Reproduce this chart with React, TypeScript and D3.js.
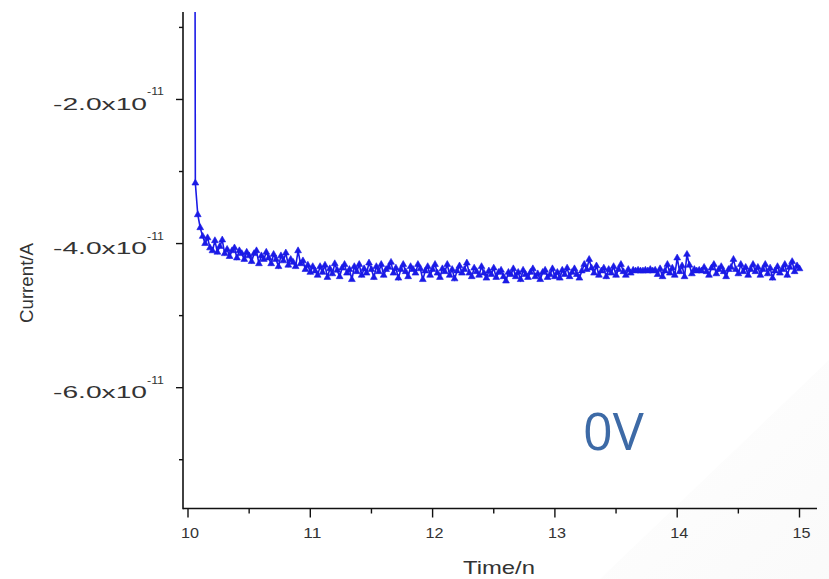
import React from "react";
import * as d3 from "d3";

// Time axis (n) and current (in units of 1e-11 A)
const timeStart = 10.04;
const timeStep = 0.02;
const currentValues: number[] = [
  20,
  -3.16, -3.6, -3.78, -3.9, -4.0, -3.92, -4.06, -4.1, -3.96, -4.12,
  -4.04, -3.95, -4.14, -4.08, -4.18, -4.1, -4.06, -4.2, -4.1, -4.14,
  -4.22, -4.12, -4.17, -4.25, -4.14, -4.1, -4.28, -4.17, -4.22, -4.12,
  -4.2, -4.28, -4.15, -4.22, -4.32, -4.17, -4.24, -4.13, -4.3, -4.22,
  -4.26, -4.32, -4.1, -4.28, -4.24, -4.36, -4.3, -4.4, -4.32, -4.38,
  -4.44, -4.32, -4.4, -4.3, -4.47, -4.35, -4.42, -4.28, -4.37, -4.46,
  -4.34, -4.29, -4.41, -4.36, -4.5, -4.32, -4.39, -4.29, -4.44, -4.35,
  -4.41, -4.27, -4.36, -4.47, -4.32, -4.39, -4.29, -4.44, -4.36, -4.33,
  -4.26, -4.41, -4.34, -4.48, -4.36, -4.29, -4.39, -4.46, -4.32, -4.36,
  -4.41, -4.29, -4.35, -4.5, -4.38, -4.32, -4.44, -4.36, -4.29, -4.41,
  -4.47, -4.35, -4.39, -4.29, -4.44, -4.36, -4.49, -4.38, -4.31, -4.41,
  -4.36, -4.27, -4.41, -4.46, -4.34, -4.39, -4.44, -4.32, -4.41, -4.48,
  -4.38, -4.43, -4.34, -4.47, -4.4, -4.37, -4.46, -4.52, -4.4, -4.43,
  -4.35, -4.46, -4.4, -4.5, -4.37, -4.43, -4.47, -4.4, -4.35, -4.46,
  -4.42, -4.5, -4.4, -4.37, -4.47, -4.43, -4.35, -4.46, -4.4, -4.48,
  -4.37, -4.43, -4.34, -4.46, -4.4, -4.35, -4.43, -4.48, -4.38, -4.29,
  -4.36, -4.22, -4.34, -4.41, -4.31, -4.44, -4.38, -4.34, -4.46, -4.36,
  -4.41, -4.32, -4.44, -4.36, -4.29, -4.39, -4.44, -4.36, -4.41, -4.37,
  -4.38, -4.37, -4.38, -4.38, -4.37, -4.38, -4.36, -4.38, -4.37, -4.43,
  -4.35, -4.46, -4.38, -4.29, -4.41, -4.34, -4.44, -4.2, -4.39, -4.31,
  -4.46, -4.15, -4.3, -4.42, -4.36, -4.38, -4.37, -4.38, -4.33, -4.39,
  -4.44, -4.34, -4.29, -4.42, -4.36, -4.32, -4.39, -4.46, -4.36, -4.33,
  -4.22, -4.36, -4.42, -4.29, -4.39, -4.33, -4.44, -4.36, -4.29, -4.39,
  -4.33, -4.44, -4.36, -4.29, -4.42, -4.34, -4.48, -4.38, -4.32, -4.41,
  -4.36, -4.29, -4.44, -4.33, -4.25, -4.39, -4.31, -4.35,
];

const xMajorTicks = [10, 11, 12, 13, 14, 15];
const xMinorTicks = [10.5, 11.5, 12.5, 13.5, 14.5];
const yMajorTicks = [-2, -4, -6];
const yMajorLabels = ["-2.0x10", "-4.0x10", "-6.0x10"];
const yExponent = "-11";
const yMinorTicks = [-1, -3, -5, -7];
const xTitle = "Time/n";
const yTitle = "Current/A";
const annotation = "0V";

export default function App() {
  const W = 829;
  const H = 579;
  const axisX = 183;
  const axisY = 508.5;
  const axisTop = 12;
  const axisRight = 817;

  const x = d3.scaleLinear().domain([10, 15]).range([188, 799.5]);
  const y = d3.scaleLinear().domain([-7.677, -0.786]).range([508.5, 12]);

  const data = currentValues.map((v, i) => ({ t: timeStart + i * timeStep, v }));
  const line = d3
    .line<{ t: number; v: number }>()
    .x((d) => x(d.t))
    .y((d) => y(d.v));
  const tri = d3.symbol().type(d3.symbolTriangle).size(20)() as string;

  const lineColor = "#1a1ae6";

  return (
    <svg
      width={W}
      height={H}
      style={{ position: "absolute", left: 0, top: 0, background: "#fff" }}
      fontFamily="'Liberation Sans', Arial, sans-serif"
    >
      <defs>
        <clipPath id="plotClip">
          <rect x={axisX} y={axisTop} width={axisRight - axisX} height={axisY - axisTop} />
        </clipPath>
        <linearGradient id="bg" x1="0" y1="0" x2="1" y2="1">
          <stop offset="0" stopColor="#ffffff" />
          <stop offset="1" stopColor="#f0f0f0" />
        </linearGradient>
      </defs>
      <rect width={W} height={H} fill="#fff" />
      <polygon points={`${W},360 ${W},${H} 600,${H}`} fill="url(#bg)" opacity={0.35} />

      {/* data */}
      <g clipPath="url(#plotClip)">
        <path d={line(data) || ""} fill="none" stroke={lineColor} strokeWidth={1.6} />
        {data.map((d, i) => (
          <path
            key={i}
            d={tri}
            transform={`translate(${x(d.t)},${y(d.v)})`}
            fill={lineColor}
            stroke={lineColor}
            strokeWidth={0.6}
          />
        ))}
      </g>

      {/* axes */}
      <line x1={axisX} y1={axisTop} x2={axisX} y2={axisY + 0.8} stroke="#111" strokeWidth={1.6} />
      <line x1={axisX} y1={axisY} x2={axisRight} y2={axisY} stroke="#111" strokeWidth={1.6} />

      {yMajorTicks.map((v, i) => (
        <g key={"ym" + v}>
          <line x1={axisX - 7} x2={axisX} y1={y(v)} y2={y(v)} stroke="#111" strokeWidth={1.4} />
          <text
            x={147}
            y={y(v) + 10.5}
            textAnchor="end"
            fontSize={17}
            fill="#333"
            textLength={94}
            lengthAdjust="spacingAndGlyphs"
          >
            {yMajorLabels[i]}
          </text>
          <text
            x={147}
            y={y(v) - 4}
            fontSize={11}
            fill="#333"
            textLength={17}
            lengthAdjust="spacingAndGlyphs"
          >
            {yExponent}
          </text>
        </g>
      ))}
      {yMinorTicks.map((v) => (
        <line key={"yn" + v} x1={axisX - 4} x2={axisX} y1={y(v)} y2={y(v)} stroke="#111" strokeWidth={1.4} />
      ))}

      {xMajorTicks.map((v) => (
        <g key={"xm" + v}>
          <line x1={x(v)} x2={x(v)} y1={axisY} y2={axisY + 9} stroke="#111" strokeWidth={1.4} />
          <text
            x={x(v) + 2}
            y={axisY + 29}
            textAnchor="middle"
            fontSize={14}
            fill="#333"
            textLength={18}
            lengthAdjust="spacingAndGlyphs"
          >
            {v}
          </text>
        </g>
      ))}
      {xMinorTicks.map((v) => (
        <line key={"xn" + v} x1={x(v)} x2={x(v)} y1={axisY} y2={axisY + 5} stroke="#111" strokeWidth={1.4} />
      ))}

      <text
        x={499}
        y={574}
        textAnchor="middle"
        fontSize={19}
        fill="#333"
        textLength={72}
        lengthAdjust="spacingAndGlyphs"
      >
        {xTitle}
      </text>
      <text
        transform={`translate(33,283) rotate(-90)`}
        textAnchor="middle"
        fontSize={18}
        fill="#333"
        textLength={80}
        lengthAdjust="spacingAndGlyphs"
      >
        {yTitle}
      </text>

      <text x={583} y={450} fontSize={52} fill="#3d6aa6" fontFamily="'Open Sans', 'Noto Sans', sans-serif">
        {annotation}
      </text>
    </svg>
  );
}
